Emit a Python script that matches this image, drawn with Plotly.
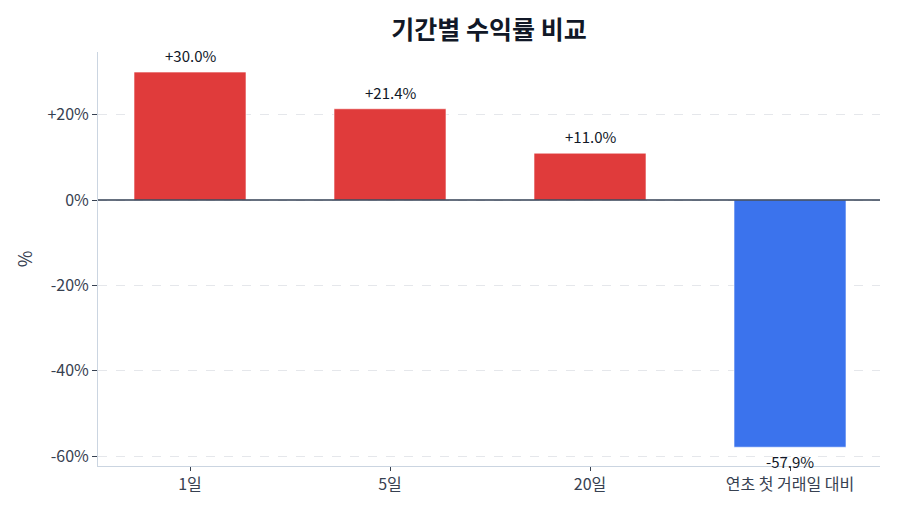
import plotly.graph_objects as go

# --- data ---
periods = ["1일", "5일", "20일", "연초 첫 거래일 대비"]
returns = [30.0, 21.4, 11.0, -57.9]
tick_vals = [-60, -40, -20, 0, 20]
tick_text = ["-60%", "-40%", "-20%", "0%", "+20%"]

RED = "#e03b3b"
BLUE = "#3b73ed"
FONT = "Noto Sans CJK KR"

colors = [RED if v >= 0 else BLUE for v in returns]
labels = [f"{v:+.1f}%" for v in returns]

fig = go.Figure()
fig.add_trace(
    go.Bar(
        x=periods,
        y=returns,
        marker=dict(color=colors, line=dict(color="rgba(255,255,255,0.6)", width=1)),
        width=0.56,
        cliponaxis=False,
    )
)

# value labels above / below each bar
for p, v, t in zip(periods, returns, labels):
    fig.add_annotation(
        x=p, y=v, text=t, showarrow=False,
        yanchor="bottom" if v >= 0 else "top",
        yshift=4 if v >= 0 else -2,
        font=dict(size=15, color="#111827", family=FONT),
    )

fig.add_hline(y=0, line_color="#334155", line_width=1.5)

fig.update_layout(
    title=dict(
        text="<b>기간별 수익률 비교</b>",
        x=0.5, xref="paper", xanchor="center", y=0.957, yanchor="middle",
        font=dict(size=25, color="#111827", family=FONT),
    ),
    font=dict(family=FONT, size=16, color="#374151"),
    xaxis=dict(
        range=[-0.46, 3.45],
        showgrid=False,
        showline=True, linecolor="#cbd5e1", linewidth=1,
        ticks="outside", tickcolor="#374151", ticklen=4,
        tickfont=dict(size=16),
    ),
    yaxis=dict(
        title=dict(text="%", font=dict(size=18), standoff=10),
        automargin=False,
        range=[-62.3, 34.7],
        tickvals=tick_vals, ticktext=tick_text,
        showgrid=True, gridcolor="#e5e7eb", griddash="dash", gridwidth=1,
        zeroline=False,
        showline=True, linecolor="#cbd5e1", linewidth=1,
        ticks="outside", tickcolor="#374151", ticklen=5,
        tickfont=dict(size=16),
    ),
    showlegend=False,
    plot_bgcolor="white",
    paper_bgcolor="white",
    margin=dict(l=90, r=28, t=44, b=56),
    width=900,
    height=514,
)

fig.write_html("out.html")
